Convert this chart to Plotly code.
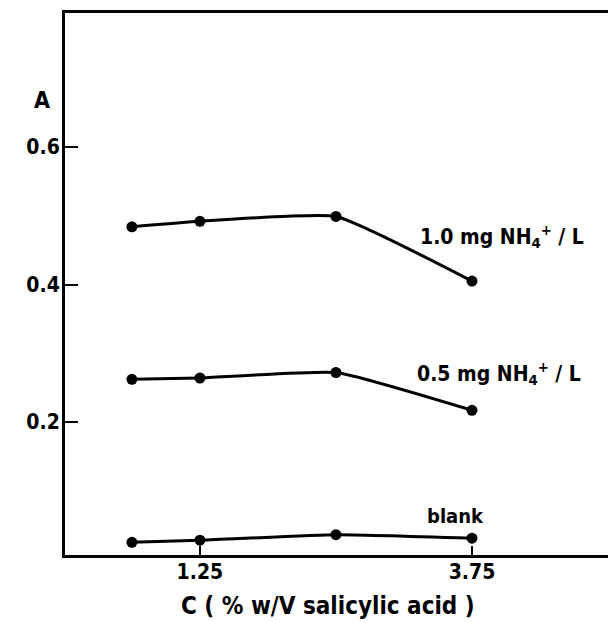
import plotly.graph_objects as go

conc = [0.625, 1.25, 2.5, 3.75]
a_1mg = [0.484, 0.492, 0.499, 0.405]
a_05mg = [0.262, 0.264, 0.272, 0.217]
a_blank = [0.025, 0.028, 0.036, 0.031]
x_ticks = [1.25, 3.75]
y_ticks = [0.2, 0.4, 0.6]
labels = ["1.0 mg NH<sub>4</sub><sup>+</sup> / L", "0.5 mg NH<sub>4</sub><sup>+</sup> / L", "blank"]

FONT = "DejaVu Sans Condensed, Liberation Sans Narrow, sans-serif"

L, R, T, B = 65, 0, 13, 67
PW, PH = 608 - L - R, 622 - T - B


def f(size):
    return dict(size=size, color="black", family=FONT, weight="bold")


def px(x, y):
    return (x - L) / PW, (622 - B - y) / PH


fig = go.Figure()
for ys in (a_1mg, a_05mg, a_blank):
    fig.add_trace(go.Scatter(
        x=conc, y=ys, mode="lines+markers",
        line=dict(color="black", width=3, shape="spline", smoothing=0.4),
        marker=dict(color="black", size=11),
        showlegend=False, hoverinfo="skip"))

notes = [
    (labels[0], 502, 236, 21),
    (labels[1], 499, 373, 21),
    (labels[2], 455, 516, 20),
    ("A", 42, 100, 23),
    ("C ( % w/V salicylic acid )", 328, 606, 24),
]
for text, x, y, s in notes:
    ax, ay = px(x, y)
    fig.add_annotation(x=ax, y=ay, xref="paper", yref="paper", text=text, showarrow=False,
                       xanchor="center", yanchor="middle", font=f(s))

fig.update_xaxes(range=[0.01, 5.0], tickvals=x_ticks, ticktext=["1.25", "3.75"],
                 ticks="inside", ticklen=9, tickwidth=2, tickcolor="black",
                 showline=True, linewidth=3, linecolor="black", mirror=True,
                 showgrid=False, zeroline=False, tickfont=f(21), ticklabelstandoff=-4)
fig.update_yaxes(range=[0.0065, 0.795], tickvals=y_ticks, ticktext=["0.2", "0.4", "0.6"],
                 ticks="inside", ticklen=13, tickwidth=2, tickcolor="black",
                 showline=True, linewidth=3, linecolor="black", mirror=True,
                 showgrid=False, zeroline=False, tickfont=f(21), ticklabelstandoff=-2)

fig.update_layout(width=608, height=622,
                  margin=dict(l=L, r=R, t=T, b=B, autoexpand=False),
                  plot_bgcolor="white", paper_bgcolor="white")

fig.write_html("out.html", config={"displayModeBar": False},
               post_script="document.body.style.margin='0';document.body.style.padding='0';")
